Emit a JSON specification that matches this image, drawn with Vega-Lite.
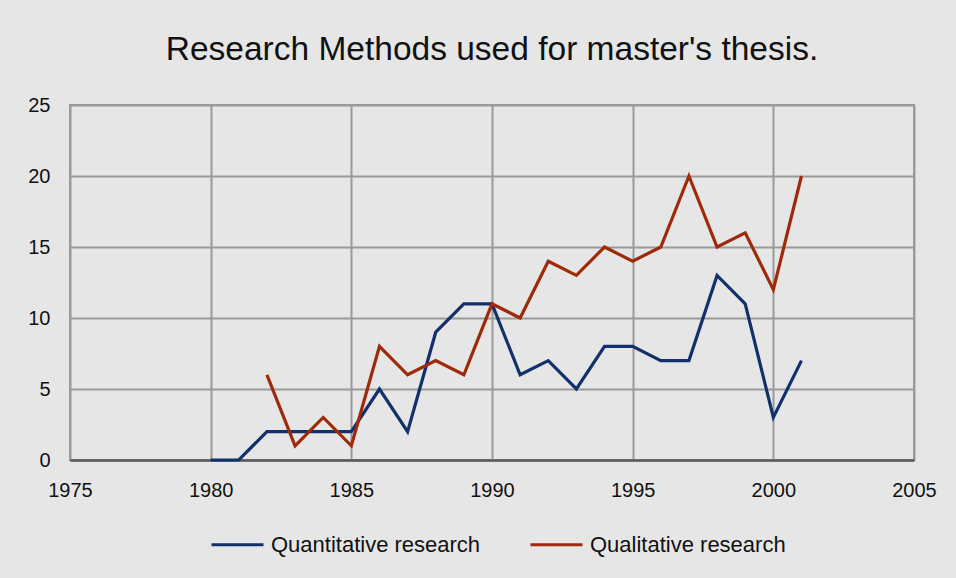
{
  "$schema": "https://vega.github.io/schema/vega-lite/v6.json",
  "autosize": "none",
  "width": 844,
  "height": 355,
  "padding": {"left": 70, "top": 105, "right": 42, "bottom": 118},
  "background": "#e6e6e6",
  "title": {"text": "Research Methods used for master's thesis.", "fontSize": 33.5, "font": "Liberation Sans", "fontWeight": "normal", "color": "#111111", "offset": 28, "anchor": "middle"},
  "config": {
    "font": "Liberation Sans",
    "view": {"stroke": "#9a9a9a", "strokeWidth": 2, "fill": "#e6e6e6"},
    "axis": {"labelFont": "Liberation Sans", "labelFontSize": 20, "labelColor": "#111111", "gridColor": "#9a9a9a", "gridWidth": 2, "gridOpacity": 1, "ticks": false, "title": null, "labelFlush": false}
  },
  "data": {"values": [
    {"year": 1980, "series": "Quantitative research", "count": 0},
    {"year": 1981, "series": "Quantitative research", "count": 0},
    {"year": 1982, "series": "Quantitative research", "count": 2},
    {"year": 1983, "series": "Quantitative research", "count": 2},
    {"year": 1984, "series": "Quantitative research", "count": 2},
    {"year": 1985, "series": "Quantitative research", "count": 2},
    {"year": 1986, "series": "Quantitative research", "count": 5},
    {"year": 1987, "series": "Quantitative research", "count": 2},
    {"year": 1988, "series": "Quantitative research", "count": 9},
    {"year": 1989, "series": "Quantitative research", "count": 11},
    {"year": 1990, "series": "Quantitative research", "count": 11},
    {"year": 1991, "series": "Quantitative research", "count": 6},
    {"year": 1992, "series": "Quantitative research", "count": 7},
    {"year": 1993, "series": "Quantitative research", "count": 5},
    {"year": 1994, "series": "Quantitative research", "count": 8},
    {"year": 1995, "series": "Quantitative research", "count": 8},
    {"year": 1996, "series": "Quantitative research", "count": 7},
    {"year": 1997, "series": "Quantitative research", "count": 7},
    {"year": 1998, "series": "Quantitative research", "count": 13},
    {"year": 1999, "series": "Quantitative research", "count": 11},
    {"year": 2000, "series": "Quantitative research", "count": 3},
    {"year": 2001, "series": "Quantitative research", "count": 7},
    {"year": 1982, "series": "Qualitative research", "count": 6},
    {"year": 1983, "series": "Qualitative research", "count": 1},
    {"year": 1984, "series": "Qualitative research", "count": 3},
    {"year": 1985, "series": "Qualitative research", "count": 1},
    {"year": 1986, "series": "Qualitative research", "count": 8},
    {"year": 1987, "series": "Qualitative research", "count": 6},
    {"year": 1988, "series": "Qualitative research", "count": 7},
    {"year": 1989, "series": "Qualitative research", "count": 6},
    {"year": 1990, "series": "Qualitative research", "count": 11},
    {"year": 1991, "series": "Qualitative research", "count": 10},
    {"year": 1992, "series": "Qualitative research", "count": 14},
    {"year": 1993, "series": "Qualitative research", "count": 13},
    {"year": 1994, "series": "Qualitative research", "count": 15},
    {"year": 1995, "series": "Qualitative research", "count": 14},
    {"year": 1996, "series": "Qualitative research", "count": 15},
    {"year": 1997, "series": "Qualitative research", "count": 20},
    {"year": 1998, "series": "Qualitative research", "count": 15},
    {"year": 1999, "series": "Qualitative research", "count": 16},
    {"year": 2000, "series": "Qualitative research", "count": 12},
    {"year": 2001, "series": "Qualitative research", "count": 20}
  ]},
  "mark": {"type": "line", "strokeWidth": 3.2, "strokeJoin": "miter"},
  "encoding": {
    "x": {"field": "year", "type": "quantitative", "scale": {"domain": [1975, 2005], "nice": false, "zero": false},
      "axis": {"values": [1975, 1980, 1985, 1990, 1995, 2000, 2005], "format": "d", "labelPadding": 20, "domainColor": "#5a5a5a", "domainWidth": 2.5}},
    "y": {"field": "count", "type": "quantitative", "scale": {"domain": [0, 25], "nice": false},
      "axis": {"values": [0, 5, 10, 15, 20, 25], "labelPadding": 20, "domain": false}},
    "color": {"field": "series", "type": "nominal",
      "scale": {"domain": ["Quantitative research", "Qualitative research"], "range": ["#12316b", "#9e2a0b"]},
      "legend": {"orient": "none", "legendX": 140, "legendY": 412, "direction": "horizontal", "title": null, "symbolType": "stroke", "symbolSize": 2704, "symbolStrokeWidth": 3, "labelFontSize": 22, "labelColor": "#111111", "labelFont": "Liberation Sans", "labelOffset": 6, "labelLimit": 0, "columnPadding": 43}}
  }
}
